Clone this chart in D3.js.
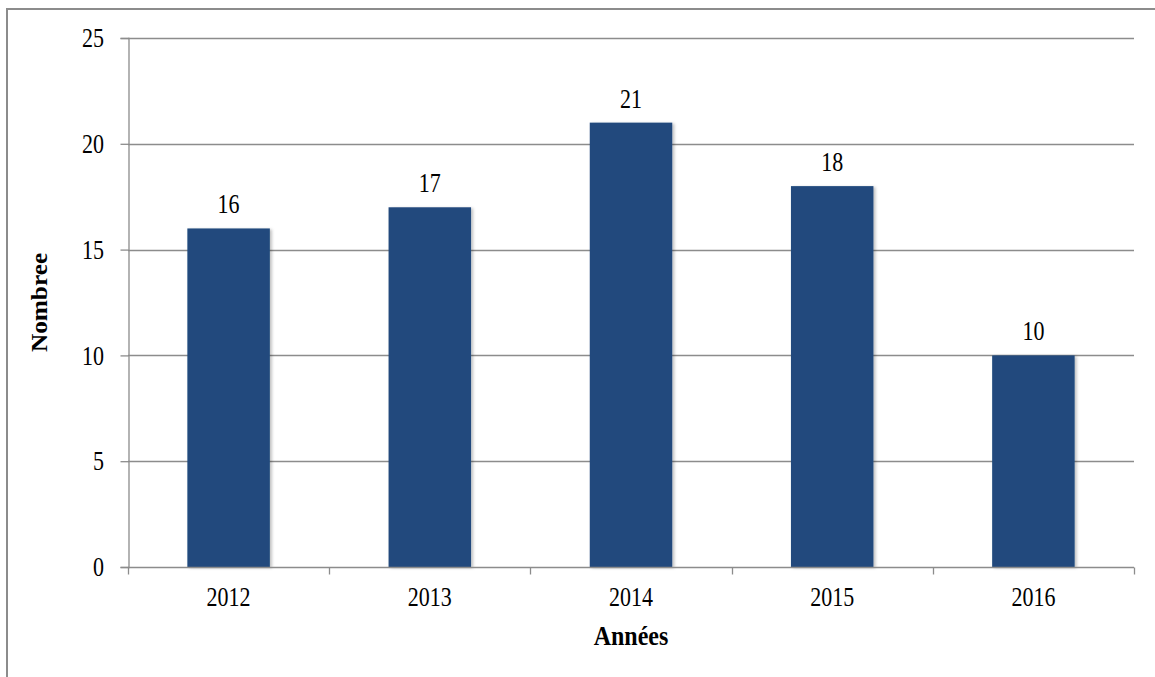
<!DOCTYPE html>
<html>
<head>
<meta charset="utf-8">
<script src="https://cdn.jsdelivr.net/npm/d3@7"></script>
<style>
  body { margin: 0; background: #fff; }
  text { font-family: "Liberation Serif", "Times New Roman", serif; fill: #000; }
</style>
</head>
<body>
<div id="chart"></div>
<script>
    // chart data
    var years = ['2012', '2013', '2014', '2015', '2016'];
    var counts = [16, 17, 21, 18, 10];
    var yTicks = [0, 5, 10, 15, 20, 25];

    var W = 1155, H = 677;
    var m = {left: 128, right: 21, top: 38, bottom: 110};
    var fs = 22, sy = 1.22; // text in the source is stretched vertically

    var svg = d3.select('#chart').append('svg')
        .attr('width', W).attr('height', H);

    // outer frame (runs past the right and bottom edge)
    svg.append('rect')
        .attr('x', 7).attr('y', 9)
        .attr('width', 1200).attr('height', 800)
        .attr('fill', 'none')
        .attr('stroke', '#8c8c8c')
        .attr('stroke-width', 2);

    var defs = svg.append('defs');
    defs.append('filter').attr('id', 'shadow')
        .attr('x', '-10%').attr('y', '-10%').attr('width', '130%').attr('height', '120%')
        .append('feDropShadow')
        .attr('dx', 2).attr('dy', 1).attr('stdDeviation', 1.5)
        .attr('flood-color', '#000').attr('flood-opacity', 0.25);

    var x = d3.scaleBand()
        .domain(years)
        .range([m.left, W - m.right])
        .paddingInner(0.59)
        .paddingOuter(0.295);

    var y = d3.scaleLinear()
        .domain([0, 25])
        .range([H - m.bottom, m.top]);

    var g = svg.append('g');

    function label(sel, px, py, txt, anchor) {
        return sel.append('text')
            .attr('transform', 'translate(' + px + ',' + py + ') scale(1,' + sy + ')')
            .attr('text-anchor', anchor || 'middle')
            .style('font-size', fs + 'px')
            .text(txt);
    }

    // gridlines
    g.selectAll('line.grid')
        .data(yTicks.filter(function (d) { return d > 0; }))
        .enter().append('line')
        .attr('class', 'grid')
        .attr('x1', m.left).attr('x2', W - m.right)
        .attr('y1', function (d) { return Math.round(y(d)) + 0.5; })
        .attr('y2', function (d) { return Math.round(y(d)) + 0.5; })
        .attr('stroke', '#8c8c8c').attr('stroke-width', 1.3);

    // y axis
    var yAxis = d3.axisLeft(y).tickValues(yTicks).tickSize(8).tickFormat('');
    var ya = g.append('g')
        .attr('transform', 'translate(' + (m.left + 0.5) + ',0)')
        .call(yAxis);
    ya.select('.domain').attr('stroke', '#8c8c8c').attr('stroke-width', 1.3);
    ya.selectAll('.tick line').attr('stroke', '#8c8c8c').attr('stroke-width', 1.3);
    yTicks.forEach(function (t) {
        label(g, 104, y(t), t, 'end').attr('dy', '0.34em');
    });

    // bars
    g.selectAll('rect.bar')
        .data(counts)
        .enter().append('rect')
        .attr('class', 'bar')
        .attr('x', function (d, i) { return x(years[i]); })
        .attr('y', function (d) { return y(d); })
        .attr('width', x.bandwidth())
        .attr('height', function (d) { return y(0) - y(d); })
        .attr('fill', '#214a7d')
        .attr('filter', 'url(#shadow)');

    // value labels
    counts.forEach(function (d, i) {
        label(g, x(years[i]) + x.bandwidth() / 2, y(d) - 15, d);
    });

    // x axis: baseline + ticks on category boundaries
    var y0 = Math.round(y(0)) + 0.5;
    g.append('line')
        .attr('x1', m.left).attr('x2', W - m.right)
        .attr('y1', y0).attr('y2', y0)
        .attr('stroke', '#8c8c8c').attr('stroke-width', 1.3);

    var step = x.step();
    var bounds = years.map(function (d) { return x(d) - x.paddingOuter() * step; });
    bounds.push(W - m.right);
    g.selectAll('line.xtick')
        .data(bounds)
        .enter().append('line')
        .attr('class', 'xtick')
        .attr('x1', function (d) { return Math.round(d) + 0.5; })
        .attr('x2', function (d) { return Math.round(d) + 0.5; })
        .attr('y1', y0).attr('y2', y0 + 7)
        .attr('stroke', '#8c8c8c').attr('stroke-width', 1.3);

    years.forEach(function (d) {
        label(g, x(d) + x.bandwidth() / 2, 606, d);
    });

    // axis titles
    svg.append('text')
        .attr('transform', 'translate(' + ((m.left + W - m.right) / 2) + ',645) scale(1,1.15)')
        .attr('text-anchor', 'middle')
        .style('font-size', '24px')
        .style('font-weight', 'bold')
        .text('Années');

    svg.append('text')
        .attr('transform', 'translate(47,' + ((m.top + H - m.bottom) / 2) + ') rotate(-90) scale(1.1,1)')
        .attr('text-anchor', 'middle')
        .style('font-size', '23px')
        .style('font-weight', 'bold')
        .text('Nombree');
</script>
</body>
</html>
